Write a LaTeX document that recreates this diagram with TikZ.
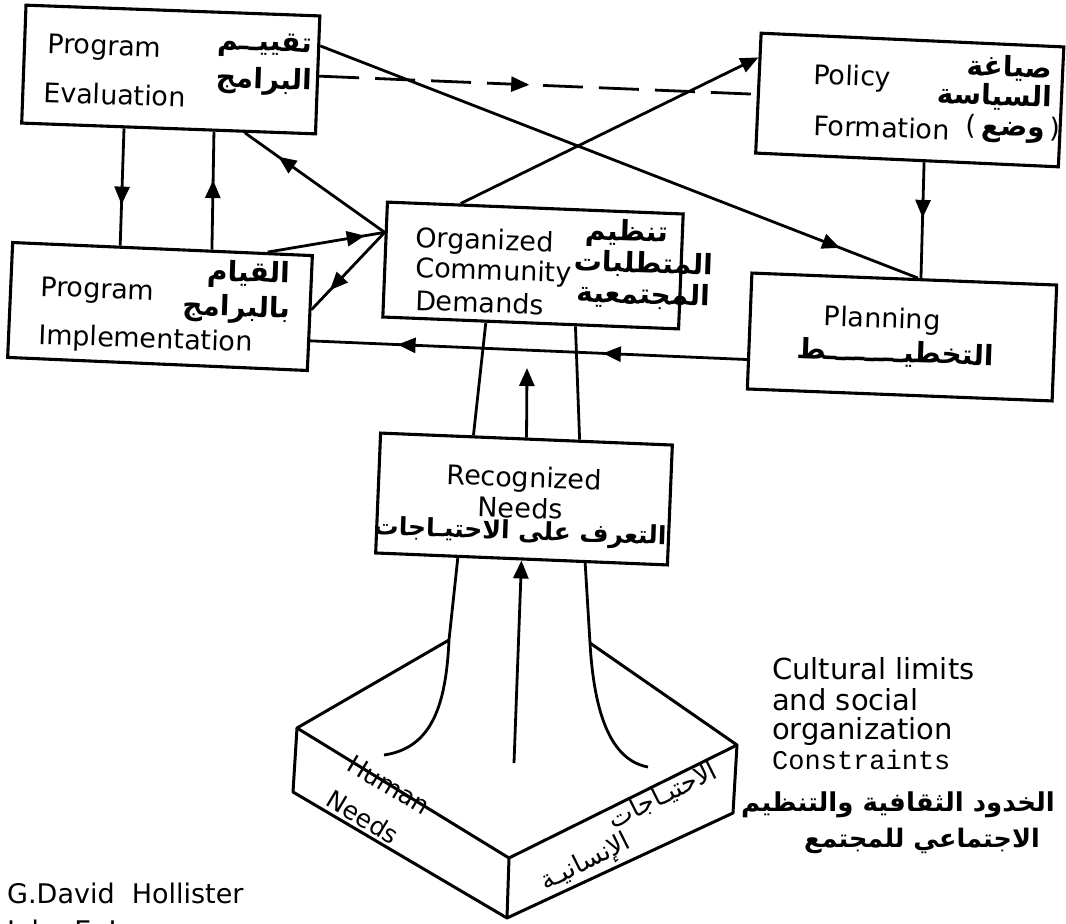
\documentclass[tikz,border=0pt]{standalone}
\usepackage{fontspec}
\setmainfont{DejaVu Sans}
\newfontfamily\arabicfont[Script=Arabic]{DejaVu Sans}
\setmonofont{Liberation Mono}
\TeXXeTstate=1
\usetikzlibrary{arrows.meta,decorations.markings,calc}
\begin{document}
\begin{tikzpicture}[x=1pt,y=-1pt,
  >={Triangle[length=18pt,width=15pt]},
  box/.style={draw,line width=3.1pt,inner sep=0pt},
  conn/.style={line width=2.8pt},
  ped/.style={line width=3pt,line join=round},
  marr/.style={postaction={decorate},decoration={markings,mark=at position #1 with {\arrow{>}}}},
  marrtwo/.style 2 args={postaction={decorate},decoration={markings,mark=at position #1 with {\arrow{>}},mark=at position #2 with {\arrow{>}}}},
  en/.style={font=\fontsize{27}{30}\selectfont,inner sep=0pt},
  ar/.style={font=\arabicfont\bfseries\fontsize{28}{30}\selectfont,inner sep=0pt},
  tb/.style={rotate=-2}
]
\fill[white] (0,0) rectangle (1066,924);
\useasboundingbox (0,0) rectangle (1066,924);

% boxes
\node[box,minimum width=294pt,minimum height=118pt,rotate=-2.1] (pe) at (170.75,69.5) {};
\node[box,minimum width=303pt,minimum height=120pt,rotate=-2.6] (pf) at (909.75,100) {};
\node[box,minimum width=296pt,minimum height=115pt,rotate=-2.3] (org) at (533,265.5) {};
\node[box,minimum width=300pt,minimum height=115pt,rotate=-2.5] (pi) at (160,306.5) {};
\node[box,minimum width=305pt,minimum height=116pt,rotate=-2.25] (pl) at (902,337) {};
\node[box,minimum width=292pt,minimum height=120pt,rotate=-2.35] (rn) at (524,499) {};

% box texts
\node[en,tb,anchor=base west] (tpe1) at (47,53) {Program};
\node[en,tb,anchor=base west] (tpe2) at (43,102) {Evaluation};
\node[ar,tb,anchor=east] (ape1) at (312,47) {\beginR تقييــم\endR};
\node[ar,tb,anchor=east] (ape2) at (312,83) {\beginR البرامج\endR};

\node[en,tb,anchor=base west] (tpf1) at (813,84) {Policy};
\node[en,tb,anchor=base west] (tpf2) at (813,135) {Formation};
\node[ar,tb,anchor=east] (apf1) at (1052,70) {\beginR صياغة\endR};
\node[ar,tb,anchor=east] (apf2) at (1052,99) {\beginR السياسة\endR};
\node[en,tb,anchor=east] (apf3) at (1060,131) {(\,{\arabicfont\bfseries\fontsize{28}{30}\selectfont\beginR وضع\endR}\,)};

\node[en,tb,anchor=base west] (tor1) at (415,247) {Organized};
\node[en,tb,anchor=base west] (tor2) at (415,277) {Community};
\node[en,tb,anchor=base west] (tor3) at (415,310) {Demands};
\node[ar,tb,anchor=east] (aor1) at (668,235) {\beginR تنظيم\endR};
\node[ar,tb,anchor=east] (aor2) at (713,267) {\beginR المتطلبات\endR};
\node[ar,tb,anchor=east] (aor3) at (710,298) {\beginR المجتمعية\endR};

\node[en,tb,anchor=base west] (tpi1) at (40,296) {Program};
\node[en,tb,anchor=base west] (tpi2) at (38,344) {Implementation};
\node[ar,tb,anchor=east] (api1) at (290,276) {\beginR القيام\endR};
\node[ar,tb,anchor=east] (api2) at (290,311) {\beginR بالبرامج\endR};

\node[en,tb,anchor=base] (tpl1) at (882,328) {Planning};
\node[ar,tb] (apl1) at (895,354) {\beginR التخطيــــــــط\endR};

\node[en,tb,anchor=base] (trn1) at (524,487) {Recognized};
\node[en,tb,anchor=base] (trn2) at (520,518) {Needs};
\node[ar,tb,font=\arabicfont\bfseries\fontsize{25}{28}\selectfont] (arn1) at (520,533) {\beginR التعرف على الاحتيـاجات\endR};

% connectors
\coordinate (C) at ($(org.north west)!0.27!(org.south west)$);
\draw[conn,marr=0.65] ($(pe.south west)!0.35!(pe.south east)$) -- ($(pi.north west)!0.36!(pi.north east)$);
\draw[conn,marr=0.59] ($(pi.north west)!0.663!(pi.north east)$) -- ($(pe.south west)!0.653!(pe.south east)$);
\draw[conn,marr=0.76] (C) -- ($(pe.south west)!0.757!(pe.south east)$);
\draw[conn,marr=0.83] ($(pi.north west)!0.847!(pi.north east)$) -- (C);
\draw[conn,marr=0.75] (C) -- ($(pi.north east)!0.47!(pi.south east)$);
\draw[conn,->] ($(org.north west)!0.25!(org.north east)$) -- ($(pf.north west)!0.21!(pf.south west)$);
\draw[conn,marr=0.87] ($(pe.north east)!0.26!(pe.south east)$) -- ($(pl.north west)!0.544!(pl.north east)$);
\draw[conn,marr=0.48] ($(pf.south west)!0.556!(pf.south east)$) -- ($(pl.north west)!0.554!(pl.north east)$);
\draw[conn,dash pattern=on 40pt off 16pt,marr=0.48] ($(pe.north east)!0.51!(pe.south east)$) -- ($(pf.north west)!0.51!(pf.south west)$);
\draw[conn,marrtwo={0.33}{0.80}] ($(pl.north west)!0.74!(pl.south west)$) -- ($(pi.north east)!0.735!(pi.south east)$);

\draw[conn] ($(org.south west)!0.35!(org.south east)$) -- ($(rn.north west)!0.32!(rn.north east)$);
\draw[conn] ($(org.south west)!0.65!(org.south east)$) -- ($(rn.north west)!0.68!(rn.north east)$);
\coordinate (uptip) at (527,368);
\draw[conn,->] ($(rn.north west)!0.5!(rn.north east)$) -- (uptip);

% stems below recognized needs
\coordinate (lbend) at (449,640);
\coordinate (lend) at (384,755);
\coordinate (rbend) at (590,643);
\coordinate (rend) at (648,767);
\coordinate (mbot) at (514,763);
\draw[conn] ($(rn.south west)!0.284!(rn.south east)$) -- (lbend) .. controls (446,705) and (432,748) .. (lend);
\draw[conn] ($(rn.south west)!0.716!(rn.south east)$) -- (rbend) .. controls (594,712) and (610,760) .. (rend);
\draw[conn,->] (mbot) -- ($(rn.south west)!0.5!(rn.south east)$);

% pedestal
\coordinate (L) at (297,728);
\coordinate (F) at (509,858);
\coordinate (R) at (737,745);
\coordinate (L2) at (293,792);
\coordinate (F2) at (507,918);
\coordinate (R2) at (733,813);
\draw[ped] (lbend) -- (L) -- (F) -- (R) -- (rbend);
\draw[ped] (L) -- (L2) -- (F2) -- (R2) -- (R);
\draw[ped] (F) -- (F2);

\node[en,font=\fontsize{25}{26}\selectfont,rotate=-31] (hn1) at (389,785) {Human};
\node[en,font=\fontsize{25}{26}\selectfont,rotate=-31] (hn2) at (363,817) {Needs};
\node[ar,font=\arabicfont\fontsize{26}{28}\selectfont,rotate=26.5] (ahn1) at (663,796) {\beginR الاحتيـاجات\endR};
\node[ar,font=\arabicfont\fontsize{26}{28}\selectfont,rotate=26.5] (ahn2) at (586,863) {\beginR الإنسانيـة\endR};

% side texts
\node[en,font=\fontsize{29}{30}\selectfont,anchor=base west] (cl1) at (772,679) {Cultural limits};
\node[en,font=\fontsize{29}{30}\selectfont,anchor=base west] (cl2) at (772,710) {and social};
\node[en,font=\fontsize{29}{30}\selectfont,anchor=base west] (cl3) at (772,739) {organization};
\node[en,font=\ttfamily\fontsize{27}{30}\selectfont,anchor=base west] (cl4) at (772,769) {Constraints};
\node[ar,font=\arabicfont\bfseries\fontsize{26}{28}\selectfont,anchor=east] (acl1) at (1055,805) {\beginR الخدود الثقافية والتنظيم\endR};
\node[ar,font=\arabicfont\bfseries\fontsize{25.5}{28}\selectfont,anchor=east] (acl2) at (1040,841) {\beginR الاجتماعي للمجتمع\endR};

\node[en,font=\fontsize{27}{30}\selectfont,anchor=base west] (auth1) at (7,903) {G.David\ \ Hollister};
\node[en,font=\fontsize{27}{30}\selectfont,anchor=base west] (auth2) at (7,940) {John E. J};
\end{tikzpicture}
\end{document}
